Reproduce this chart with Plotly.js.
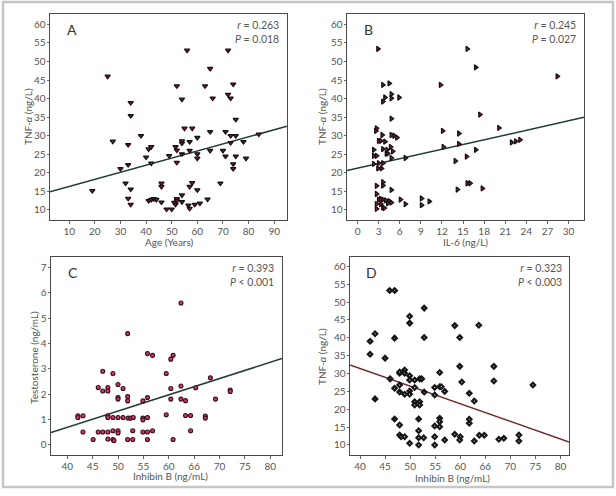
<!DOCTYPE html>
<html><head><meta charset="utf-8">
<script src="https://cdn.plot.ly/plotly-3.0.1.min.js"></script>
<style>html,body{margin:0;padding:0;background:#fff}#chart{width:616px;height:496px}</style>
</head><body><div id="chart"></div>
<script>
// Panel A: Age vs TNF-alpha
const ageX = [25,19,27,30,33,33,34,34,32,34,33,34,38,40,41,42,42,41,42,43,44,46,46,46,48,50,49,
  56,72,65,52,63,74,54,66,72,73,75,55,58,65,71,54,54,57,60,51.5,52,54,57,60,60,65,70,71,73,75,
  73,78,74,74,75,79,84,52,69,58,57,60,54,52,51,51.5,52,54,56.5,57,59,61,64];
const tnfA = [46,15.2,28.5,21.1,27.6,22.2,38.9,35.4,17.2,15.6,13.1,11.5,30,24.2,26.4,27,22.6,12.5,12.8,13,12.8,17.2,16.3,12.1,10.2,10.2,24.6,
  53,53,48.1,43.4,43.4,43.9,39.8,40.1,41.1,40.1,34.4,32,32,31.1,31.1,28.6,28,28.4,29.5,27,26.1,25.1,26,25.1,23.9,26,26,24.5,30,30,
  28.1,28.4,22.4,21.1,24.5,23.9,30.4,22.8,17.2,17.3,16.3,15.4,14,13,12,11.5,12.5,12.2,11.3,10.4,11.5,11.8,12.9];
// Panel B: IL-6 vs TNF-alpha
const il6 = [2.9,15.6,16.8,28.4,3.6,4.5,11.8,3.9,3.6,4.8,4.8,5.9,17.4,4.8,2.7,2.6,20.1,12.1,14.4,3.5,
  4.8,5.2,5.6,3,3.3,3.9,21.9,22.5,23.1,14.4,12.2,4.7,3.6,4.2,2.3,5,16.8,4.1,4.3,15.5,
  2.3,2.7,6.8,4.8,13.9,2.3,3,3.6,2.9,3.4,2.7,3.6,3.6,4.8,14.2,15.6,16,17.75,2.7,3,
  3.3,3.6,4,4.5,4.8,2.7,3.3,2.7,3.6,3.8,6.1,6.8,9.1,9.1,10.2,4.3];
const tnfB = [53.4,53.4,48.4,46,43.7,44.1,43.7,40.3,39.2,41.2,40.1,40.3,35.7,34.6,32,31.3,32.1,31.3,30.6,30.2,
  30.2,30,29.5,28.6,28.6,28.4,28.2,28.5,28.9,27.8,27,27,26.4,26.2,26.2,25.8,26.2,25.2,25.2,24.4,
  24.6,24.6,24,24,23.2,22.4,22.6,22.6,21.2,21.2,16.5,16.6,17.5,15.4,15.5,17.2,17.2,15.8,14.3,12.8,
  13,12.8,12.6,12.4,12,11.6,11.6,10.3,10.7,10.5,12.8,11.6,13.1,11.3,12.3,11.8];
// Panel C: Inhibin B vs Testosterone
const inhC = [42.1,42.1,43.1,43.1,45.1,46.1,46.1,47,47,47,48,48,48,48,48,48,49,49,49,49,49.2,50,50,50,50,50,50,51,51,
  51.9,51.9,51.9,52,52.5,53,51.9,52.9,52.9,54.9,54.9,54.9,54.9,55.8,55.8,55.8,55.8,55.8,56.8,56.8,
  62.4,60.85,60.4,59.5,62.4,60.4,68.2,65.3,72.1,72.1,60.4,62.4,63.3,69.2,59.5,63.3,64.3,67.2,67.2,64.3,60.85];
const testoC = [1.14,1.07,1.14,0.5,0.2,0.5,2.26,2.12,2.9,0.5,2.26,2.12,1.14,1.07,0.5,0.22,2.81,1.07,0.55,0.2,0.16,2.38,1.86,1.8,1.07,0.55,0.46,2.22,1.07,
  4.39,1.9,1.73,1.05,1.05,1.07,0.2,0.55,0.2,1.73,1.05,0.98,0.5,1.07,1.86,3.6,0.5,0.2,3.53,0.55,
  5.6,3.53,3.38,2.81,2.32,2.22,2.64,2.25,2.16,2.1,1.8,1.8,1.74,1.8,1.18,1.15,1.15,1.13,1.05,0.55,0.2];
// Panel D: Inhibin B vs TNF-alpha
const inhD = [45.9,46.9,52.8,49.9,49.9,58.9,43,42,46.9,52.8,59.9,42,45,59.9,47.9,48.9,48.9,47.9,49.9,49.9,
  50.9,51.9,52.3,55.9,60.3,46,46.9,47.9,47.9,48.9,49.9,49.9,50.9,50.9,50.9,51.9,51.9,52.8,54.9,54.9,
  55.9,56.2,56.9,46.9,47.9,51.7,47.9,48.2,48.9,49.9,51.7,51.7,52.7,51.7,54.9,54.9,55.9,55.9,55.9,54.9,
  56.9,58.9,60,59.9,43,63.7,66.7,66.7,74.5,61.8,62.8,61.8,61.8,62.8,63.8,64.8,67.7,68.7,71.7,71.7];
const tnfD = [53.2,53.2,48.3,46,44.1,43.4,41.1,39,39.9,40.1,40.1,35.4,34.3,32,30.1,31,30.1,30.4,29.4,28.2,
  28.2,28.5,28.5,30.3,27.6,28.5,25.9,26.8,24.8,24.2,25.1,24.2,26.1,22.1,21.2,22.1,21.2,24.8,24,26.1,
  26.3,26.3,25,17.3,15.6,17.3,12.8,12.3,12.3,10.5,14,12,12,10,12.3,15.3,17.5,16.5,15.1,10,
  11.4,13,12.3,11.4,22.9,43.5,32,27.9,26.8,24.5,22.3,17.2,16.1,11.1,12.7,12.7,11.6,11.9,12.8,11.1];

// fitted regression lines (intercept, slope) as drawn
const fitA = [14.42, 0.191];
const fitB = [21.24, 0.426];
const fitC = [-1.88, 0.0642];
const fitD = [51.15, -0.4934];

const panelLetters = ['A','B','C','D'];
const statTexts = ['<i>r</i> = 0.263<br><i>P</i> = 0.018','<i>r</i> = 0.245<br><i>P</i> = 0.027',
                   '<i>r</i> = 0.393<br><i>P</i> &lt; 0.001','<i>r</i> = 0.323<br><i>P</i> &lt; 0.003'];
const xTitles = ['Age (Years)','IL-6 (ng/L)','Inhibin B (ng/mL)','Inhibin B (ng/mL)'];
const yTitles = ['TNF-<i>α</i> (ng/L)','TNF-<i>α</i> (ng/L)','Testosterone (ng/mL)','TNF-<i>α</i> (ng/L)'];
const inhTickVals = [40,45,50,55,60,65,70,75,80];
const inhTickText = ['40','45','50','55','60','66','70','75','80'];

const W = 616, H = 496;
const ranges = {
  A:{x:[2.5,95], y:[7.3,62.8]},
  B:{x:[-1.5,32.2], y:[7.3,62.8]},
  C:{x:[36.8,82.3], y:[-0.41,7.42]},
  D:{x:[38,81.7], y:[7.2,62.6]}
};
function px(l,r){return [l/W, r/W];}
function py(t,b){return [1-b/H, 1-t/H];}

function lineTrace(fit, rng, xa, ya, color){
  const xs = [rng[0], rng[1]];
  return {x:xs, y:xs.map(v=>fit[0]+fit[1]*v), mode:'lines', xaxis:xa, yaxis:ya,
    line:{color:color, width:1.5}, hoverinfo:'skip', showlegend:false};
}
const triMarker = (sym)=>({symbol:sym, size:4.6, color:'#8e1832', line:{color:'#121212', width:1.25}});

const traces = [
  lineTrace(fitA, ranges.A.x, 'x','y','#1f3a3c'),
  {x:ageX, y:tnfA, mode:'markers', xaxis:'x', yaxis:'y', marker:triMarker('triangle-down'), showlegend:false},
  lineTrace(fitB, ranges.B.x, 'x2','y2','#1f3a3c'),
  {x:il6, y:tnfB, mode:'markers', xaxis:'x2', yaxis:'y2', marker:triMarker('triangle-right'), showlegend:false},
  lineTrace(fitC, ranges.C.x, 'x3','y3','#1f3a3c'),
  {x:inhC, y:testoC, mode:'markers', xaxis:'x3', yaxis:'y3',
    marker:{symbol:'circle', size:4, color:'#e0306a', line:{color:'#2e1219', width:1.1}}, showlegend:false},
  lineTrace(fitD, ranges.D.x, 'x4','y4','#6e2a2a'),
  {x:inhD, y:tnfD, mode:'markers', xaxis:'x4', yaxis:'y4',
    marker:{symbol:'diamond', size:3.4, color:'#ffffff', line:{color:'#151515', width:2.2}}, showlegend:false}
];

const tfont = {size:10, color:'#555'};
const font = {family:'Lato, "Open Sans", sans-serif', size:10, color:'#555'};
function ax(domain, range, extra){
  return Object.assign({domain:domain, range:range, showline:true, mirror:true, linecolor:'#4a4a4a', linewidth:1,
    ticks:'outside', ticklen:2.5, tickcolor:'#666', tickfont:tfont, ticklabelstandoff:-1,
    showgrid:false, zeroline:false, fixedrange:true, automargin:false}, extra);
}

const layout = {
  width:W, height:H, margin:{l:0,r:0,t:0,b:0}, paper_bgcolor:'#fff', plot_bgcolor:'#fff',
  font:font, showlegend:false,
  xaxis: ax(px(50,287), ranges.A.x, {dtick:10, tick0:10, anchor:'y'}),
  yaxis: ax(py(14,220), ranges.A.y, {dtick:5, anchor:'x'}),
  xaxis2: ax(px(347,584), ranges.B.x, {dtick:3, tick0:0, anchor:'y2'}),
  yaxis2: ax(py(14,220), ranges.B.y, {dtick:5, anchor:'x2'}),
  xaxis3: ax(px(51,282), ranges.C.x, {tickmode:'array', tickvals:inhTickVals, ticktext:inhTickText, anchor:'y3'}),
  yaxis3: ax(py(257,455), ranges.C.y, {dtick:1, tick0:0, anchor:'x3'}),
  xaxis4: ax(px(350,569), ranges.D.x, {tickmode:'array', tickvals:inhTickVals, ticktext:inhTickText, anchor:'y4'}),
  yaxis4: ax(py(257,455), ranges.D.y, {dtick:5, anchor:'x4'}),
  shapes:[{type:'rect', xref:'paper', yref:'paper', x0:3/W, x1:613/W, y0:1-487/H, y1:1-2/H,
    line:{color:'#c6c6c6', width:2.5}, fillcolor:'rgba(0,0,0,0)'}],
  annotations:[]
};
// axis-title positions in pixels (centre x, centre y)
const xTitlePos = [[169,242],[466,242],[170,476],[452,478]];
const yTitlePos = [[28,117],[322,117],[34,358],[322,357]];
const axNames = ['','2','3','4'];
axNames.forEach((s,i)=>{
  layout.annotations.push({xref:'x'+s+' domain', yref:'y'+s+' domain', x:0.065, y:0.975, xanchor:'left', yanchor:'top',
    text:panelLetters[i], showarrow:false, font:{size:14, color:'#333'}});
  layout.annotations.push({xref:'x'+s+' domain', yref:'y'+s+' domain', x:0.975, y:0.985, xanchor:'right', yanchor:'top',
    align:'right', text:statTexts[i], showarrow:false, font:{size:10.5, color:'#555'}});
  layout.annotations.push({xref:'paper', yref:'paper', x:xTitlePos[i][0]/W, y:1-xTitlePos[i][1]/H,
    xanchor:'center', yanchor:'middle', text:xTitles[i], showarrow:false, font:tfont});
  layout.annotations.push({xref:'paper', yref:'paper', x:yTitlePos[i][0]/W, y:1-yTitlePos[i][1]/H,
    xanchor:'center', yanchor:'middle', textangle:-90, text:yTitles[i], showarrow:false, font:tfont});
});

Plotly.newPlot('chart', traces, layout, {staticPlot:true, displayModeBar:false});
</script>
</body></html>
